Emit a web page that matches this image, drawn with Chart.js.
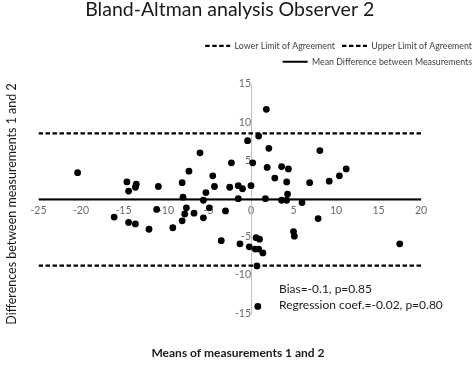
<!DOCTYPE html>
<html>
<head>
<meta charset="utf-8">
<title>Bland-Altman analysis Observer 2</title>
<script src="https://cdn.jsdelivr.net/npm/chart.js@4.4.1/dist/chart.umd.min.js"></script>
<style>
  html, body { margin: 0; padding: 0; background: #fff; }
  #wrap { width: 474px; height: 366px; position: relative; }
</style>
</head>
<body>
<div id="wrap"><canvas id="chart"></canvas></div>
<script>
const meanValues = [
  1.8, -0.4, 0.9, 2.1, -6.0, -2.3, 0.2, 1.9, -20.4, -7.3,
  -4.5, 2.8, -14.6, -13.5, -13.6, -14.4, -10.9, -8.1, -4.3, -2.5,
  -1.5, -1.0, 0.0, -5.3, -8.0, -5.6, -1.5, 1.7, 3.6, 4.4,
  8.1, 4.2, 6.9, 9.2, 10.4, 11.2, 4.3, 3.6, 4.2, 6.0,
  7.9, -16.1, -14.4, -13.6, -12.0, -11.1, -9.2, -8.1, -7.8, -7.6,
  -6.7, -5.6, -4.9, -3.0, -3.5, -1.3, -0.2, 0.6, 1.0, 0.5,
  0.9, 1.4, 0.7, 0.8, 5.0, 5.1, 17.5
];
const diffValues = [
  11.7, 7.6, 8.2, 6.6, 6.0, 4.7, 4.7, 4.1, 3.4, 3.6,
  3.0, 2.7, 2.2, 1.9, 1.5, 1.0, 1.6, 2.1, 1.6, 1.5,
  1.7, 1.3, 1.7, 0.8, 0.2, -0.2, 0.0, 0.0, 4.2, 3.9,
  6.3, 2.2, 2.1, 2.3, 3.0, 3.9, 0.6, -0.2, -0.2, -0.5,
  -2.6, -2.4, -3.1, -3.3, -4.0, -1.4, -3.8, -2.9, -2.0, -1.2,
  -1.9, -2.5, -1.2, -1.6, -5.5, -5.9, -6.3, -5.1, -5.3, -6.6,
  -6.6, -7.1, -8.8, -14.1, -4.3, -4.9, -5.9
];

const meanDifference = -0.1;
const upperLimit = 8.56;
const lowerLimit = -8.76;

const xTicks = [-25, -20, -15, -10, -5, 0, 5, 10, 15, 20];
const yTicks = [-15, -10, -5, 0, 5, 10, 15];

const seriesNames = ['Lower Limit of Agreement', 'Upper Limit of Agreement', 'Mean Difference between Measurements'];
const statLines = ['Bias=-0.1, p=0.85', 'Regression coef.=-0.02, p=0.80'];

const xMin = xTicks[0], xMax = xTicks[xTicks.length - 1];

Chart.defaults.font.family = 'Lato, "Open Sans", sans-serif';

// empty axes used only to reserve margins round the plot
function spacer(position, size) {
  return {
    type: 'linear',
    position: position,
    grid: { display: false, drawTicks: false },
    border: { display: false },
    ticks: { display: false },
    afterFit: s => { if (s.isHorizontal()) s.height = size; else s.width = size; }
  };
}

// axis titles and the stats note
const extraText = {
  id: 'extraText',
  afterDraw(chart) {
    const ctx = chart.ctx;
    ctx.save();
    ctx.fillStyle = '#1a1a1a';
    ctx.font = '12px Lato';
    ctx.textAlign = 'left';
    ctx.textBaseline = 'alphabetic';
    ctx.fillText(statLines[0], 279, 293);
    ctx.fillText(statLines[1], 279, 308.5);

    ctx.textAlign = 'center';
    ctx.textBaseline = 'middle';
    ctx.font = 'bold 12px Lato';
    ctx.fillText('Means of measurements 1 and 2', 238, 353);

    ctx.translate(12, 204);
    ctx.rotate(-Math.PI / 2);
    ctx.font = '12.5px Lato';
    ctx.fillText('Differences between measurements 1 and 2', 0, 0);
    ctx.restore();
  }
};

// make the legend break after the two limit entries, like the original
const legendWrap = {
  id: 'legendWrap',
  afterInit(chart) {
    const legend = chart.legend;
    if (!legend || !legend._fitRows) return;
    const fitRows = legend._fitRows;
    legend._fitRows = function () {
      const full = this.maxWidth;
      this.maxWidth = full - 80;
      const h = fitRows.apply(this, arguments);
      this.maxWidth = full;
      return h;
    };
  }
};

function flat(v) {
  return [{ x: xMin, y: v }, { x: xMax, y: v }];
}

// legend entries drawn as short line samples carrying each line's dash
function lineLabels(chart) {
  return Chart.defaults.plugins.legend.labels.generateLabels(chart).map(item => {
    const ds = chart.data.datasets[item.datasetIndex];
    item.pointStyle = 'line';
    item.lineDash = ds.borderDash || [];
    item.lineWidth = ds.borderWidth;
    item.strokeStyle = ds.borderColor;
    return item;
  });
}

new Chart(document.getElementById('chart'), {
  type: 'scatter',
  data: {
    datasets: [
      {
        label: 'Observations',
        data: meanValues.map((m, i) => ({ x: m, y: diffValues[i] })),
        xAxisID: 'x', yAxisID: 'y',
        pointRadius: 3.4,
        pointHoverRadius: 3.4,
        pointBorderWidth: 0,
        backgroundColor: '#000',
        borderColor: '#000'
      },
      {
        label: seriesNames[0],
        data: flat(lowerLimit),
        xAxisID: 'x', yAxisID: 'y',
        showLine: true, pointRadius: 0,
        borderColor: '#000', borderWidth: 2.2, borderDash: [4.5, 2.5]
      },
      {
        label: seriesNames[1],
        data: flat(upperLimit),
        xAxisID: 'x', yAxisID: 'y',
        showLine: true, pointRadius: 0,
        borderColor: '#000', borderWidth: 2.2, borderDash: [4.5, 2.5]
      },
      {
        label: seriesNames[2],
        data: flat(meanDifference),
        xAxisID: 'x', yAxisID: 'y',
        showLine: true, pointRadius: 0,
        borderColor: '#000', borderWidth: 2
      }
    ]
  },
  options: {
    responsive: true,
    maintainAspectRatio: false,
    animation: false,
    layout: { padding: { left: 0, top: 0, bottom: 0, right: -5 } },
    scales: {
      x: {
        type: 'linear',
        position: { y: 0 },
        min: xMin, max: xMax,
        afterBuildTicks: s => { s.ticks = xTicks.map(v => ({ value: v })); },
        grid: { display: false, drawTicks: false },
        border: { display: true, color: '#c0c0c0', width: 1 },
        ticks: { color: '#6a6a6a', font: { size: 10.5 }, padding: 6, maxRotation: 0, autoSkip: false }
      },
      y: {
        type: 'linear',
        position: { x: 0 },
        min: yTicks[0], max: yTicks[yTicks.length - 1],
        afterBuildTicks: s => { s.ticks = yTicks.map(v => ({ value: v })); },
        grid: { display: false, drawTicks: false },
        border: { display: true, color: '#c0c0c0', width: 1 },
        ticks: {
          color: '#6a6a6a', font: { size: 10.5 }, padding: 7, autoSkip: false,
          callback: v => (v === 0 ? '' : v)
        }
      },
      padL: spacer('left', 38.5),
      padR: spacer('right', 58),
      padT: spacer('top', 8),
      padB: spacer('bottom', 52.7)
    },
    plugins: {
      title: {
        display: true,
        text: 'Bland-Altman analysis Observer 2',
        color: '#1a1a1a',
        font: { size: 19.5, weight: 'normal', lineHeight: 1 },
        padding: { top: 0, bottom: 15 },
        fullSize: false
      },
      legend: {
        position: 'top',
        align: 'end',
        labels: {
          generateLabels: lineLabels,
          filter: item => item.datasetIndex > 0,
          usePointStyle: true,
          pointStyleWidth: 25,
          color: '#404040',
          font: { size: 8.8 },
          padding: 7
        }
      },
      tooltip: { enabled: false }
    }
  },
  plugins: [extraText, legendWrap]
});
</script>
</body>
</html>
